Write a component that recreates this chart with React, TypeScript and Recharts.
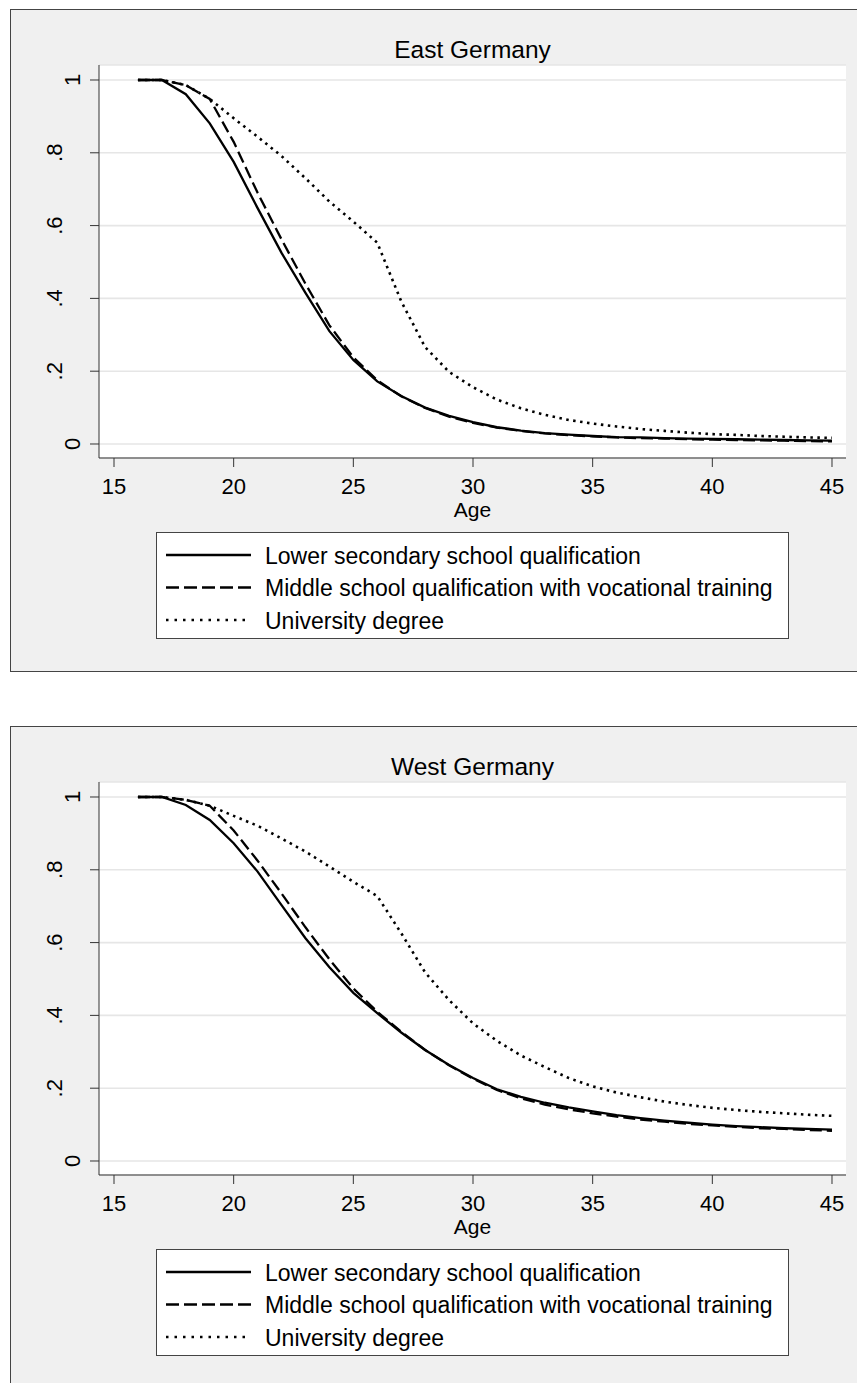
import { LineChart, Line, XAxis, YAxis, CartesianGrid } from 'recharts';

const FONT = '"Liberation Sans", Arial, Helvetica, sans-serif';

const ages = [16, 17, 18, 19, 20, 21, 22, 23, 24, 25, 26, 27, 28, 29, 30, 31, 32, 33, 34, 35, 36, 37, 38, 39, 40, 41, 42, 43, 44, 45];

const seriesNames = [
  'Lower secondary school qualification',
  'Middle school qualification with vocational training',
  'University degree',
];

const panelTitles = ['East Germany', 'West Germany'];

// East Germany
const eastLower = [1.0, 1.0, 0.961, 0.881, 0.775, 0.648, 0.525, 0.415, 0.31, 0.231, 0.172, 0.132, 0.1, 0.077, 0.06, 0.046, 0.037, 0.03, 0.026, 0.022, 0.019, 0.018, 0.016, 0.015, 0.014, 0.013, 0.012, 0.011, 0.01, 0.009];
const eastMiddle = [1.0, 1.0, 0.986, 0.948, 0.83, 0.69, 0.562, 0.44, 0.326, 0.238, 0.175, 0.131, 0.099, 0.075, 0.058, 0.045, 0.036, 0.029, 0.024, 0.021, 0.018, 0.016, 0.015, 0.013, 0.012, 0.011, 0.01, 0.009, 0.008, 0.007];
const eastUni = [1.0, 1.0, 0.986, 0.948, 0.895, 0.844, 0.791, 0.73, 0.666, 0.611, 0.553, 0.392, 0.266, 0.198, 0.156, 0.122, 0.098, 0.08, 0.066, 0.056, 0.048, 0.041, 0.036, 0.031, 0.027, 0.025, 0.022, 0.02, 0.018, 0.017];

// West Germany
const westLower = [1.0, 1.0, 0.978, 0.937, 0.873, 0.795, 0.703, 0.612, 0.532, 0.462, 0.406, 0.353, 0.305, 0.264, 0.228, 0.197, 0.176, 0.16, 0.147, 0.136, 0.126, 0.118, 0.111, 0.105, 0.1, 0.096, 0.093, 0.09, 0.088, 0.086];
const westMiddle = [1.0, 1.0, 0.992, 0.976, 0.908, 0.825, 0.735, 0.642, 0.554, 0.474, 0.41, 0.355, 0.305, 0.263, 0.226, 0.195, 0.172, 0.155, 0.142, 0.131, 0.122, 0.114, 0.108, 0.102, 0.098, 0.094, 0.09, 0.088, 0.085, 0.083];
const westUni = [1.0, 1.0, 0.992, 0.976, 0.948, 0.921, 0.886, 0.85, 0.809, 0.767, 0.728, 0.626, 0.518, 0.442, 0.378, 0.33, 0.29, 0.258, 0.228, 0.205, 0.188, 0.175, 0.163, 0.154, 0.146, 0.14, 0.135, 0.131, 0.127, 0.124];

const xTicks = [15, 20, 25, 30, 35, 40, 45];
const yTicks = [0, 0.2, 0.4, 0.6, 0.8, 1];
const yTickLabels = ['0', '.2', '.4', '.6', '.8', '1'];

const keys = ['lower', 'middle', 'uni'];
const dashes = [undefined, '12 5', '2.5 4.5'];
const widths = [2.3, 2.3, 2.6];

const buildRows = (lower: number[], middle: number[], uni: number[]) =>
  ages.map((age, i) => ({ age, lower: lower[i], middle: middle[i], uni: uni[i] }));

const eastData = buildRows(eastLower, eastMiddle, eastUni);
const westData = buildRows(westLower, westMiddle, westUni);

const W = 857;
const H = 680;

const YTick = (props: any) => {
  const { x, y, payload } = props;
  const i = yTicks.indexOf(payload.value);
  const label = i >= 0 ? yTickLabels[i] : String(payload.value);
  // stata pushes the ".x" labels further out
  const bx = label.startsWith('.') ? x - 18 : x;
  return (
    <text x={bx} y={y} transform={`rotate(-90 ${bx} ${y})`} textAnchor="middle" fontSize={22} fill="#000" fontFamily={FONT}>
      {label}
    </text>
  );
};

const Panel = ({ title, data, top }: { title: string; data: any[]; top: number }) => {
  const legendRows = [555, 587.5, 620];
  return (
    <div style={{ position: 'absolute', left: 0, top, width: W, height: H }}>
      <div
        style={{
          position: 'absolute', left: 10, top: 9, width: 900, height: 663,
          background: '#f0f0f0', border: '1px solid #444', boxSizing: 'border-box',
        }}
      />
      <div style={{ position: 'absolute', left: 0, top: 0 }}>
        <LineChart width={W} height={H} data={data} margin={{ top: 65, right: 11, left: 39, bottom: 162 }}>
          <CartesianGrid vertical={false} stroke="#e6e6e6" strokeWidth={1.6} fill="#fff" fillOpacity={1} />
          <XAxis
            type="number" dataKey="age" domain={[14.373, 45.585]} allowDataOverflow ticks={xTicks} interval={0}
            height={60} tickSize={9} tickMargin={11} stroke="#333"
            tick={{ fill: '#000', fontSize: 22, fontFamily: FONT }}
            label={{ value: 'Age', position: 'insideBottom', offset: 1, fill: '#000', fontSize: 21, fontFamily: FONT }}
          />
          <YAxis
            type="number" domain={[-0.0385, 1.0412]} allowDataOverflow ticks={yTicks} interval={0}
            width={60} tickSize={9} tickMargin={10} stroke="#333" tick={<YTick />}
          />
          {keys.map((k, i) => (
            <Line
              key={k} type="linear" dataKey={k} name={seriesNames[i]} stroke="#000"
              strokeWidth={widths[i]} strokeDasharray={dashes[i]} dot={false} activeDot={false}
              isAnimationActive={false}
            />
          ))}
        </LineChart>
      </div>
      <svg width={W} height={H} style={{ position: 'absolute', left: 0, top: 0, pointerEvents: 'none' }}>
        <text x={472.5} y={58} textAnchor="middle" fontSize={24.5} fontFamily={FONT} fill="#000">{title}</text>
        <rect x={156.5} y={532.5} width={632} height={106} fill="#fff" stroke="#444" strokeWidth={1} />
        {seriesNames.map((name, i) => (
          <g key={name}>
            <line x1={166} x2={251} y1={legendRows[i]} y2={legendRows[i]} stroke="#000" strokeWidth={widths[i]}
              strokeDasharray={i === 1 ? '13 5' : i === 2 ? '2.5 6' : undefined} />
            <text x={265} y={legendRows[i] + 8.5} fontSize={23} fontFamily={FONT} fill="#000">{name}</text>
          </g>
        ))}
      </svg>
    </div>
  );
}

export default function App() {
  return (
    <div style={{ position: 'relative', width: W, height: 1383, overflow: 'hidden', background: '#fff', fontFamily: FONT }}>
      <style>{'body{margin:0}'}</style>
      <Panel title={panelTitles[0]} data={eastData} top={0} />
      <Panel title={panelTitles[1]} data={westData} top={717} />
    </div>
  );
}
